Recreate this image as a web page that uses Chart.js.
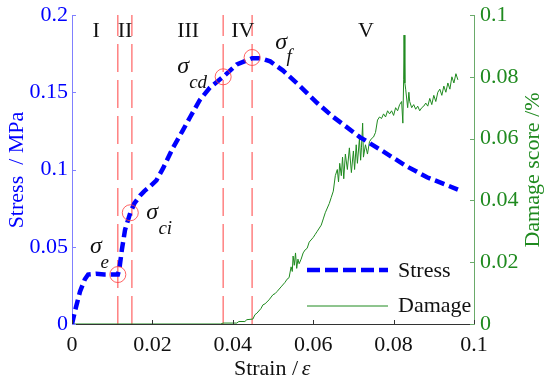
<!DOCTYPE html>
<html>
<head>
<meta charset="utf-8">
<script src="https://cdn.jsdelivr.net/npm/chart.js@4"></script>
<style>
  html, body { margin: 0; padding: 0; background: #fff; }
  #wrap { width: 550px; height: 386px; }
</style>
</head>
<body>
<div id="wrap"><canvas id="chart" width="550" height="386"></canvas></div>
<script>
/* stress-strain curve (left axis) */
var stressStrain = [0, 0.0008, 0.002, 0.0032, 0.004, 0.006, 0.008, 0.010, 0.0114, 0.0118, 0.0124, 0.0132,
  0.0145, 0.0155, 0.0169, 0.018, 0.0194, 0.021, 0.0227, 0.0251, 0.0275, 0.0294, 0.0318, 0.0343, 0.0376,
  0.041, 0.0448, 0.047, 0.0493, 0.0525, 0.0567, 0.061, 0.065, 0.0716, 0.0766, 0.0833, 0.0883, 0.096];
var stressValues = [0, 0.009, 0.021, 0.029, 0.032, 0.0325, 0.032, 0.032, 0.032, 0.036, 0.048, 0.061,
  0.072, 0.078, 0.083, 0.086, 0.089, 0.093, 0.101, 0.114, 0.125, 0.134, 0.145, 0.153, 0.160,
  0.168, 0.172, 0.172, 0.170, 0.164, 0.154, 0.143, 0.134, 0.121, 0.113, 0.102, 0.095, 0.087];

/* damage score (right axis) */
var damageStrain = [0, 0.037, 0.0376, 0.041, 0.0415, 0.043, 0.0435, 0.045, 0.0455, 0.046, 0.047, 0.0475,
  0.048, 0.049, 0.050, 0.0505, 0.051, 0.052, 0.053, 0.0535, 0.054, 0.0545, 0.0548, 0.055, 0.0553, 0.0556,
  0.0559, 0.0562, 0.0565, 0.057, 0.0575, 0.058, 0.0585, 0.059, 0.060, 0.0605, 0.061, 0.062, 0.0625, 0.063,
  0.064, 0.0645, 0.065, 0.0655, 0.066, 0.0663, 0.0666, 0.067, 0.0673, 0.0676, 0.068, 0.0685, 0.069, 0.0695,
  0.070, 0.0703, 0.0707, 0.071, 0.0715, 0.0718, 0.072, 0.0723, 0.0725, 0.073, 0.0735, 0.074, 0.0745, 0.075,
  0.0755, 0.076, 0.0765, 0.077, 0.0775, 0.078, 0.0785, 0.079, 0.0795, 0.080, 0.0805, 0.081, 0.0815, 0.082,
  0.0823, 0.0825, 0.0826, 0.0828, 0.083, 0.0835, 0.0838, 0.084, 0.0845, 0.085, 0.0855, 0.086, 0.0865, 0.087,
  0.0875, 0.088, 0.0885, 0.089, 0.0895, 0.090, 0.0905, 0.091, 0.0915, 0.092, 0.0925, 0.093, 0.0935, 0.094,
  0.0945, 0.095, 0.0955, 0.096];
var damageValues = [0, 0, 0.0003, 0.0003, 0.0008, 0.0008, 0.0014, 0.0016, 0.003, 0.0035, 0.005, 0.0062,
  0.0065, 0.0078, 0.0095, 0.0098, 0.0105, 0.012, 0.0135, 0.0145, 0.015, 0.0185, 0.017, 0.022, 0.019, 0.023,
  0.018, 0.021, 0.0195, 0.021, 0.023, 0.024, 0.0245, 0.0265, 0.028, 0.029, 0.030, 0.032, 0.034, 0.036,
  0.039, 0.041, 0.043, 0.048, 0.050, 0.046, 0.052, 0.048, 0.054, 0.047, 0.055, 0.050, 0.057, 0.049,
  0.056, 0.050, 0.058, 0.052, 0.060, 0.053, 0.057, 0.065, 0.054, 0.058, 0.055, 0.059, 0.060, 0.0605,
  0.062, 0.066, 0.067, 0.0665, 0.068, 0.067, 0.069, 0.068, 0.069, 0.0675, 0.070, 0.069, 0.071, 0.072,
  0.065, 0.079, 0.0935, 0.078, 0.076, 0.070, 0.075, 0.072, 0.070, 0.071, 0.0695, 0.0705, 0.069, 0.070,
  0.0705, 0.0715, 0.0705, 0.073, 0.071, 0.074, 0.072, 0.075, 0.076, 0.074, 0.077, 0.075, 0.078, 0.076,
  0.080, 0.078, 0.081, 0.079];

/* stage boundaries and characteristic stresses */
var stageStrain = [0.0114, 0.0149, 0.0376, 0.0448];
var keyStrain = [0.0114, 0.0145, 0.0376, 0.0448];
var keyStress = [0.032, 0.072, 0.160, 0.1725];
var keySubs = ["e", "ci", "cd", "f"];
var stageNames = ["I", "II", "III", "IV", "V"];
var stageLabelX = [0.006, 0.0132, 0.0289, 0.0425, 0.0731];

var xTicks = [0, 0.02, 0.04, 0.06, 0.08, 0.1];
var yTicks = [0, 0.05, 0.1, 0.15, 0.2];
var y2Ticks = [0, 0.02, 0.04, 0.06, 0.08, 0.1];

var SERIF = "'Liberation Serif', 'Times New Roman', serif";
var BLUE = "#0000ff";
var GREEN = "#1f8a1f";
var RED = "rgba(255,70,70,0.85)";

function pts(xs, ys) {
  var out = [];
  for (var i = 0; i < xs.length; i++) out.push({ x: xs[i], y: ys[i] });
  return out;
}
function fmt(v) { return String(+v.toFixed(4)); }

var datasets = [
  {
    label: "Stress", data: pts(stressStrain, stressValues), yAxisID: "y", showLine: true,
    borderColor: BLUE, borderWidth: 4.5, borderDash: [10, 5], pointRadius: 0, order: 1
  },
  {
    label: "Damage", data: pts(damageStrain, damageValues), yAxisID: "y2", showLine: true,
    borderColor: GREEN, borderWidth: 1, pointRadius: 0, order: 3
  },
  {
    label: "points", data: pts(keyStrain, keyStress), yAxisID: "y", showLine: false,
    pointRadius: 8, pointBorderColor: RED, pointBackgroundColor: "rgba(0,0,0,0)", pointBorderWidth: 1, order: 0
  }
];
stageStrain.forEach(function (s) {
  datasets.push({
    label: "stage", data: [{ x: s, y: 0 }, { x: s, y: 0.2 }], yAxisID: "y", showLine: true,
    borderColor: RED, borderWidth: 1.2, borderDash: [28, 8], pointRadius: 0, order: 4
  });
});

/* offsets of sigma labels from their circles (sigma x, baseline, subscript x, baseline) */
var sigOffsets = [[-22, -22, -13, -7], [22, 6, 35, 21], [-40, -4, -25, 11], [29, -8, 37, 5]];

/* texts, inward ticks, titles and legend */
var decor = {
  id: "decor",
  afterDraw: function (chart) {
    var ctx = chart.ctx, sx = chart.scales.x, sy = chart.scales.y, sy2 = chart.scales.y2;
    var a = chart.chartArea;
    ctx.save();
    // inward tick marks
    ctx.lineWidth = 1;
    ctx.strokeStyle = "#333";
    xTicks.forEach(function (t) {
      var px = Math.round(sx.getPixelForValue(t)) + 0.5;
      ctx.beginPath(); ctx.moveTo(px, a.bottom); ctx.lineTo(px, a.bottom - 4); ctx.stroke();
    });
    ctx.strokeStyle = "#8080ff";
    yTicks.forEach(function (t) {
      var py = Math.round(sy.getPixelForValue(t)) + 0.5;
      ctx.beginPath(); ctx.moveTo(a.left, py); ctx.lineTo(a.left + 4, py); ctx.stroke();
    });
    ctx.strokeStyle = "#6aaa6a";
    y2Ticks.forEach(function (t) {
      var py = Math.round(sy2.getPixelForValue(t)) + 0.5;
      ctx.beginPath(); ctx.moveTo(a.right, py); ctx.lineTo(a.right - 4, py); ctx.stroke();
    });

    // stage numerals
    ctx.fillStyle = "#111";
    ctx.font = "22px " + SERIF;
    ctx.textAlign = "center";
    ctx.textBaseline = "alphabetic";
    stageNames.forEach(function (n, i) {
      ctx.fillText(n, sx.getPixelForValue(stageLabelX[i]), a.top + 22);
    });

    // sigma labels
    keySubs.forEach(function (sub, i) {
      var o = sigOffsets[i];
      var px = sx.getPixelForValue(keyStrain[i]), py = sy.getPixelForValue(keyStress[i]);
      ctx.font = "italic 24px " + SERIF;
      ctx.fillText("\u03c3", px + o[0], py + o[1]);
      ctx.font = "italic 19px " + SERIF;
      ctx.fillText(sub, px + o[2], py + o[3]);
    });

    // axis titles
    ctx.textBaseline = "middle";
    ctx.font = "22px " + SERIF;
    ctx.fillText("Strain /", 266, 369);
    ctx.font = "italic 22px " + SERIF;
    ctx.fillText("\u03b5", 306, 369);

    ctx.save();
    ctx.translate(17, 170);
    ctx.rotate(-Math.PI / 2);
    ctx.font = "22px " + SERIF;
    ctx.fillStyle = BLUE;
    ctx.fillText("Stress  / MPa", 0, 0);
    ctx.restore();

    ctx.save();
    ctx.translate(533, 170);
    ctx.rotate(-Math.PI / 2);
    ctx.font = "22px " + SERIF;
    ctx.fillStyle = GREEN;
    ctx.fillText("Damage score /%", 0, 0);
    ctx.restore();

    // legend
    ctx.lineWidth = 4.5;
    ctx.strokeStyle = BLUE;
    ctx.setLineDash([13, 5]);
    ctx.beginPath(); ctx.moveTo(307, 270); ctx.lineTo(388, 270); ctx.stroke();
    ctx.setLineDash([]);
    ctx.lineWidth = 1;
    ctx.strokeStyle = GREEN;
    ctx.beginPath(); ctx.moveTo(307, 306); ctx.lineTo(388, 306); ctx.stroke();
    ctx.fillStyle = "#111";
    ctx.font = "22px " + SERIF;
    ctx.textAlign = "left";
    ctx.fillText("Stress", 398, 271);
    ctx.fillText("Damage", 398, 306);
    ctx.restore();
  }
};

function fitVertical(width) {
  return function (s) { s.width = width; s.paddingTop = 0; s.paddingBottom = 0; };
}

var ctx = document.getElementById("chart");
var myChart = new Chart(ctx, {
  type: "scatter",
  data: { datasets: datasets },
  options: {
    responsive: false,
    animation: false,
    layout: { padding: { top: 15, left: 0, right: 0, bottom: 0 } },
    plugins: { legend: { display: false }, tooltip: { enabled: false } },
    scales: {
      x: {
        type: "linear", min: 0, max: 0.1,
        afterBuildTicks: function (s) { s.ticks = xTicks.map(function (v) { return { value: v }; }); },
        afterFit: function (s) { s.height = 62; s.paddingLeft = 0; s.paddingRight = 0; },
        grid: { display: false, drawTicks: false },
        border: { display: true, color: "#333", width: 1 },
        ticks: { callback: fmt, color: "#111", font: { family: SERIF, size: 22 }, padding: 8, maxRotation: 0 }
      },
      y: {
        type: "linear", position: "left", min: 0, max: 0.2,
        afterBuildTicks: function (s) { s.ticks = yTicks.map(function (v) { return { value: v }; }); },
        afterFit: fitVertical(72),
        grid: { display: false, drawTicks: false },
        border: { display: true, color: "#8080ff", width: 1 },
        ticks: { callback: fmt, color: BLUE, font: { family: SERIF, size: 22 }, padding: 4 }
      },
      y2: {
        type: "linear", position: "right", min: 0, max: 0.1,
        afterBuildTicks: function (s) { s.ticks = y2Ticks.map(function (v) { return { value: v }; }); },
        afterFit: fitVertical(76),
        grid: { display: false, drawTicks: false },
        border: { display: true, color: "#6aaa6a", width: 1 },
        ticks: { callback: fmt, color: GREEN, font: { family: SERIF, size: 22 }, padding: 6 }
      }
    }
  },
  plugins: [decor]
});
</script>
</body>
</html>
